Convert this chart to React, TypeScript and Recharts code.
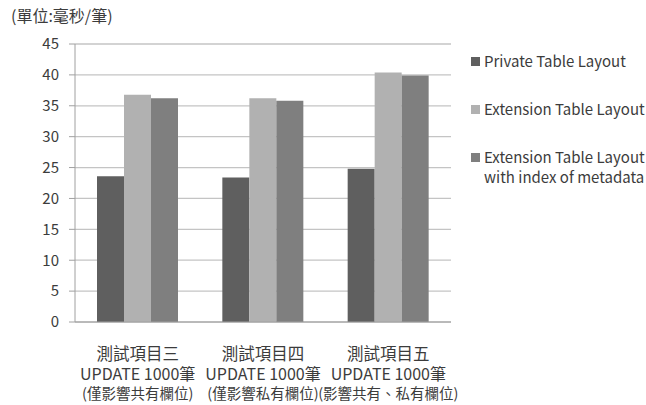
import React from 'react';
import { BarChart, Bar, XAxis, YAxis, CartesianGrid } from 'recharts';

// Test cases along the category axis (three text lines per tick)
const categories = ['測試項目三', '測試項目四', '測試項目五'];
const operations = ['UPDATE 1000筆', 'UPDATE 1000筆', 'UPDATE 1000筆'];
const scopes = ['(僅影響共有欄位)', '(僅影響私有欄位)', '(影響共有、私有欄位)'];

// Average time per row (ms) for each layout
const privateLayout = [23.6, 23.4, 24.8];
const extensionLayout = [36.8, 36.2, 40.4];
const extensionIndexed = [36.2, 35.8, 39.9];

const yTicks = [0, 5, 10, 15, 20, 25, 30, 35, 40, 45];
const edgeTicks = [0, 1, 2, 3];

const series = [
  { key: 'privateLayout', name: 'Private Table Layout', color: '#5f5f5f' },
  { key: 'extensionLayout', name: 'Extension Table Layout', color: '#b1b1b1' },
  { key: 'extensionIndexed', name: 'Extension Table Layout with index of metadata', color: '#7f7f7f' },
];

const data = categories.map((c, i) => ({
  idx: i,
  category: c,
  privateLayout: privateLayout[i],
  extensionLayout: extensionLayout[i],
  extensionIndexed: extensionIndexed[i],
}));

const FONT = '"Noto Sans CJK TC", "Noto Sans", sans-serif';
const TEXT = '#3c3c3c';

const CategoryTick = (props: any) => {
  const { x, y, payload } = props;
  const i = payload.index;
  return (
    <g>
      <text x={x} y={y + 31} textAnchor="middle" dominantBaseline="central" fontSize={16.5} fill={TEXT} fontFamily={FONT}>
        {categories[i]}
      </text>
      <text x={x} y={y + 51} textAnchor="middle" dominantBaseline="central" fontSize={16} fill={TEXT} fontFamily={FONT}>
        {operations[i]}
      </text>
      <text x={x} y={y + 70.5} textAnchor="middle" dominantBaseline="central" fontSize={14.5} fill={TEXT} fontFamily={FONT}>
        {scopes[i]}
      </text>
    </g>
  );
};

export default function App() {
  return (
    <div style={{ position: 'absolute', left: 0, top: 0, width: 646, height: 405, background: '#fff', fontFamily: FONT, overflow: 'hidden' }}>
      <div style={{ position: 'absolute', left: 11, top: 4, fontSize: 16, color: TEXT, lineHeight: '22px' }}>
        (單位:毫秒/筆)
      </div>
      <BarChart
        width={646}
        height={405}
        data={data}
        margin={{ top: 44, right: 195, bottom: 0, left: 0 }}
        barCategoryGap={22}
        barGap={0}
      >
        <CartesianGrid vertical={false} stroke="#c4c4c4" strokeWidth={1.3} />
        <XAxis
          xAxisId="edges"
          type="number"
          dataKey="idx"
          domain={[0, 3]}
          ticks={edgeTicks}
          height={0}
          axisLine={false}
          tickSize={5}
          tickLine={{ stroke: '#a0a0a0' }}
          tickFormatter={() => ''}
          allowDataOverflow
        />
        <XAxis
          xAxisId="cat"
          dataKey="category"
          height={83}
          axisLine={{ stroke: '#a0a0a0' }}
          tickLine={false}
          tickSize={0}
          tickMargin={0}
          interval={0}
          tick={<CategoryTick />}
        />
        <YAxis
          width={75}
          domain={[0, 45]}
          ticks={yTicks}
          interval={0}
          axisLine={{ stroke: '#a0a0a0' }}
          tickLine={{ stroke: '#a0a0a0' }}
          tickSize={6}
          tickMargin={10}
          tick={{ fontSize: 15, fill: TEXT, fontFamily: FONT }}
        />
        {series.map((s) => (
          <Bar key={s.key} xAxisId="cat" dataKey={s.key} name={s.name} fill={s.color} isAnimationActive={false} />
        ))}
      </BarChart>
      <div style={{ position: 'absolute', left: 471, top: 51, width: 175 }}>
        {series.map((s) => (
          <div key={s.key} style={{ display: 'flex', alignItems: 'flex-start', marginBottom: 28 }}>
            <div style={{ width: 9, height: 9, background: s.color, marginTop: 6, flexShrink: 0 }} />
            <div style={{ marginLeft: 4, fontSize: 15, lineHeight: '20px', color: TEXT, width: 168, flexShrink: 0 }}>{s.name}</div>
          </div>
        ))}
      </div>
    </div>
  );
}
